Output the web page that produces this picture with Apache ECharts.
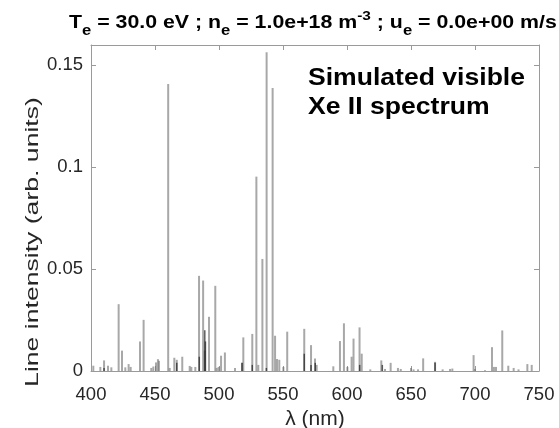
<!DOCTYPE html>
<html>
<head>
<meta charset="utf-8">
<script src="https://cdn.jsdelivr.net/npm/echarts@6/dist/echarts.min.js"></script>
<style>
  html, body { margin: 0; padding: 0; background: #fff; }
  #chart { width: 559px; height: 428px; }
</style>
</head>
<body>
<div id="chart"></div>
<script>
// Wavelengths (nm) and relative intensities of the Xe II emission lines
var lineWavelengths = [
  401.8, 407.3, 410.2, 413.3, 415.9, 421.6, 424.2, 426.8, 429.4, 431.0,
  438.3, 441.1, 447.1, 448.7, 450.8, 452.3, 453.1, 460.3, 461.5, 465.1,
  467.0, 471.3, 477.1, 478.4, 481.5, 484.4, 487.6, 488.8, 492.2, 497.1,
  498.2, 499.7, 501.6, 504.6, 512.5, 518.0, 519.0, 526.0, 529.2, 530.7,
  533.9, 537.2, 541.9, 543.8, 545.3, 547.1, 550.3, 553.3, 566.6, 571.9,
  575.0, 576.3, 589.3, 594.5, 597.6, 600.3, 603.6, 605.1, 609.8, 611.5,
  618.2, 626.8, 629.7, 634.1, 639.8, 642.0, 650.0, 652.0, 655.5, 659.5,
  668.8, 674.7, 680.5, 682.3, 698.9, 700.0, 707.8, 713.3, 714.8, 716.4,
  721.3, 726.0, 730.2, 734.0, 740.9, 744.3
];
var lineIntensities = [
  0.0026, 0.0020, 0.0052, 0.0026, 0.0018, 0.0328, 0.0100, 0.0018, 0.0034, 0.0020,
  0.0145, 0.0251, 0.0015, 0.0022, 0.0042, 0.0058, 0.0050, 0.1408, 0.0015, 0.0065,
  0.0055, 0.0070, 0.0025, 0.0020, 0.0020, 0.0467, 0.0444, 0.0100, 0.0266, 0.0418,
  0.0015, 0.0020, 0.0075, 0.0091, 0.0015, 0.0040, 0.0165, 0.0182, 0.0954, 0.0030,
  0.0550, 0.1565, 0.1389, 0.0173, 0.0059, 0.0055, 0.0020, 0.0193, 0.0207, 0.0127,
  0.0061, 0.0030, 0.0023, 0.0147, 0.0234, 0.0020, 0.0070, 0.0159, 0.0214, 0.0085,
  0.0008, 0.0052, 0.0010, 0.0040, 0.0015, 0.0010, 0.0015, 0.0008, 0.0008, 0.0062,
  0.0045, 0.0008, 0.0010, 0.0012, 0.0078, 0.0010, 0.0004, 0.0117, 0.0020, 0.0020,
  0.0199, 0.0026, 0.0015, 0.0008, 0.0034, 0.0030
];

// Closely spaced blended lines (drawn darker where they pile up)
var blendWavelengths = [410.2, 467.0, 484.6, 488.9, 489.4, 518.0, 526.0, 537.0, 566.6, 571.9, 575.2, 609.9, 627.6, 668.8];
var blendIntensities = [0.0015, 0.0040, 0.0070, 0.0200, 0.0145, 0.0040, 0.0030, 0.0015, 0.0085, 0.0030, 0.0040, 0.0030, 0.0030, 0.0040];

// Axis ticks
var xTicks = [400, 450, 500, 550, 600, 650, 700, 750];
var yTicks = [0, 0.05, 0.1, 0.15];
var yTickLabels = ['0', '0.05', '0.1', '0.15'];

function pairs(xs, ys) {
  return xs.map(function (x, i) { return [x, ys[i]]; });
}

function stickRenderer(color, width) {
  return function (params, api) {
    var base = api.coord([api.value(0), 0]);
    var top = api.coord([api.value(0), api.value(1)]);
    return {
      type: 'line',
      shape: { x1: base[0], y1: base[1], x2: top[0], y2: top[1] },
      style: { stroke: color, lineWidth: width }
    };
  };
}

var FONT = '"Liberation Sans", Arial, Helvetica, sans-serif';
var labelColor = '#262626';
var axisGray = '#9a9a9a';

var chart = echarts.init(document.getElementById('chart'), null, { renderer: 'canvas' });

chart.setOption({
  animation: false,
  backgroundColor: '#ffffff',
  graphic: [{
    // plot title with subscripts / superscript
    type: 'text',
    x: 69,
    y: 8,
    scaleX: 1.185,
    style: {
      text: '{m|T}{s|e}{m| = 30.0 eV ; n}{s|e}{m| = 1.0e+18 m}{p|-3}{m| ; u}{s|e}{m| = 0.0e+00 m/s}',
      align: 'left',
      verticalAlign: 'top',
      rich: {
        m: { fontFamily: FONT, fontWeight: 'bold', fontSize: 18, fill: '#000', verticalAlign: 'middle' },
        s: { fontFamily: FONT, fontWeight: 'bold', fontSize: 14, fill: '#000', padding: [16, 0, 0, 0], verticalAlign: 'middle' },
        p: { fontFamily: FONT, fontWeight: 'bold', fontSize: 13, fill: '#000', padding: [0, 0, 14, 0], verticalAlign: 'middle' }
      }
    }
  }, {
    type: 'text',
    x: 308,
    y: 64,
    scaleX: 1.155,
    style: {
      text: 'Simulated visible\nXe II spectrum',
      font: 'bold 23px ' + FONT,
      fill: '#000',
      lineHeight: 29,
      align: 'left',
      verticalAlign: 'top'
    }
  }, {
    // y-axis title
    type: 'text',
    x: 33,
    y: 242,
    rotation: Math.PI / 2,
    scaleX: 1.4,
    style: {
      text: 'Line intensity (arb. units)',
      font: '19px ' + FONT,
      fill: labelColor,
      align: 'center',
      verticalAlign: 'middle'
    }
  }],
  grid: { left: 91, right: 20, top: 45, bottom: 57, containLabel: false, outerBoundsMode: 'none' },
  xAxis: [{
    type: 'value',
    min: 400,
    max: 750,
    interval: 50,
    position: 'bottom',
    name: 'λ (nm)',
    nameLocation: 'middle',
    nameGap: 36,
    nameTextStyle: { fontFamily: FONT, fontSize: 21, color: labelColor },
    axisLine: { show: true, onZero: false, lineStyle: { color: axisGray, width: 1 } },
    axisTick: { show: true, inside: true, length: 5, lineStyle: { color: axisGray } },
    axisLabel: {
      fontFamily: FONT, fontSize: 18.5, color: labelColor, margin: 14,
      customValues: xTicks
    },
    splitLine: { show: false }
  }, {
    type: 'value',
    min: 400,
    max: 750,
    interval: 50,
    position: 'top',
    axisLine: { show: true, onZero: false, lineStyle: { color: axisGray, width: 1 } },
    axisTick: { show: true, inside: true, length: 5, lineStyle: { color: axisGray } },
    axisLabel: { show: false },
    splitLine: { show: false }
  }],
  yAxis: [{
    type: 'value',
    min: 0,
    max: 0.16,
    position: 'left',
    axisLine: { show: true, onZero: false, lineStyle: { color: axisGray, width: 1 } },
    axisTick: { show: true, inside: true, length: 5, lineStyle: { color: axisGray }, customValues: yTicks },
    axisLabel: {
      fontFamily: FONT, fontSize: 18.5, color: labelColor, margin: 8,
      customValues: yTicks,
      formatter: function (v) {
        var i = yTicks.indexOf(v);
        return i >= 0 ? yTickLabels[i] : '';
      }
    },
    splitLine: { show: false }
  }, {
    type: 'value',
    min: 0,
    max: 0.16,
    position: 'right',
    axisLine: { show: true, onZero: false, lineStyle: { color: axisGray, width: 1 } },
    axisTick: { show: true, inside: true, length: 5, lineStyle: { color: axisGray }, customValues: yTicks },
    axisLabel: { show: false },
    splitLine: { show: false }
  }],
  series: [{
    name: 'Xe II lines',
    type: 'custom',
    xAxisIndex: 0,
    yAxisIndex: 0,
    renderItem: stickRenderer('rgba(115,115,115,0.62)', 2),
    data: pairs(lineWavelengths, lineIntensities),
    clip: true
  }, {
    name: 'Blended lines',
    type: 'custom',
    xAxisIndex: 0,
    yAxisIndex: 0,
    renderItem: stickRenderer('rgba(30,30,30,0.7)', 1.5),
    data: pairs(blendWavelengths, blendIntensities),
    clip: true
  }]
});
</script>
</body>
</html>
